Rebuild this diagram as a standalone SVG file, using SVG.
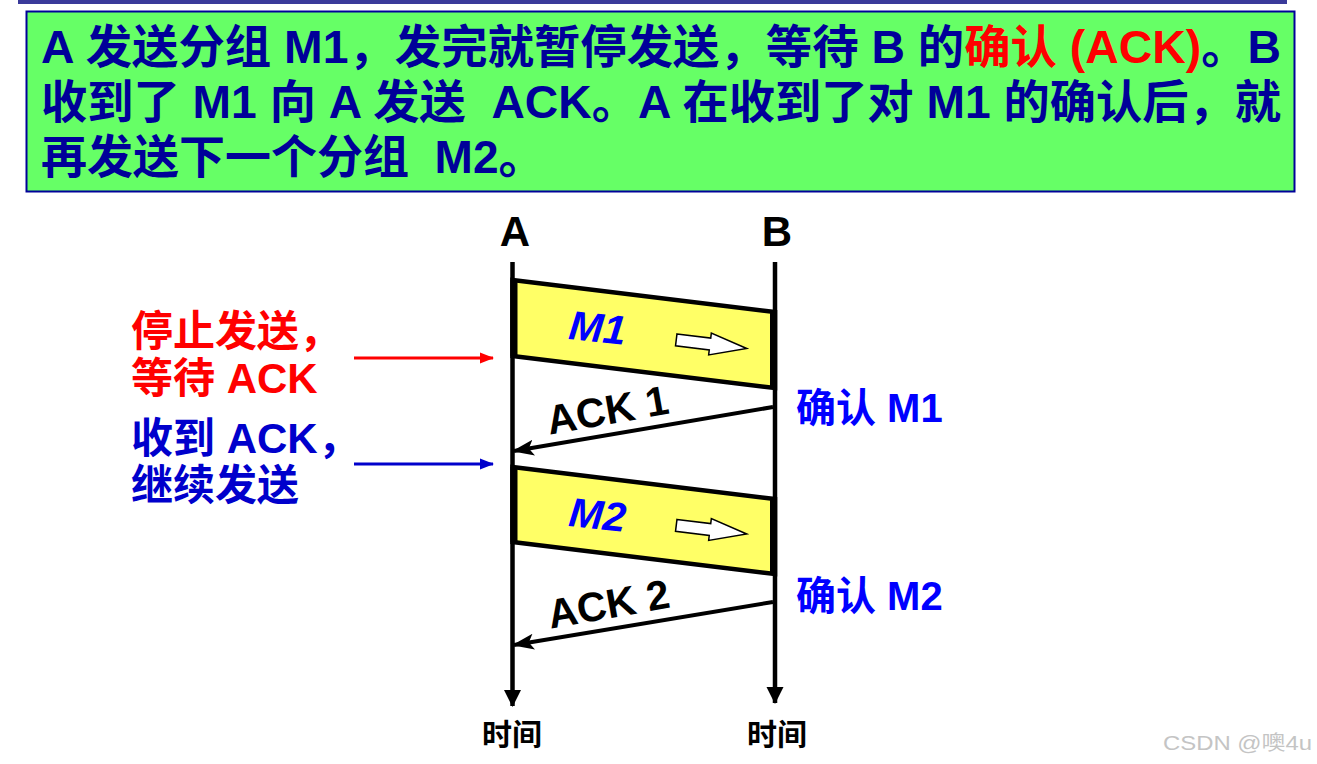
<svg xmlns="http://www.w3.org/2000/svg" width="1317" height="764" viewBox="0 0 1317 764">
<style>
text{font-family:"Liberation Sans","Noto Sans CJK SC",sans-serif;font-weight:bold;white-space:pre}
.hdr{font-size:46px;fill:#000099}
.lbl{font-size:42px}
.ack{font-size:41px;fill:#000}
.msg{font-size:41px;fill:#0000ff;font-style:italic}
.cf{font-size:40px;fill:#0000ff}
.tm{font-size:30px;fill:#000}
.life{stroke:#000;stroke-width:4.5;fill:none}
.box{fill:#ffff66;stroke:#000;stroke-width:4.5;stroke-linejoin:miter}
.side{stroke:#000;stroke-width:7}
.hol{fill:#fff;stroke:#000;stroke-width:1.5}
</style>
<defs>
<marker id="mLife" markerUnits="userSpaceOnUse" markerWidth="18" markerHeight="18" viewBox="0 -9 17 18" refX="16" refY="0" orient="auto"><path d="M0,-8.5 L17,0 L0,8.5 Z" fill="#000"/></marker>
<marker id="mAck" markerUnits="userSpaceOnUse" markerWidth="22" markerHeight="18" viewBox="0 -9 22 18" refX="20" refY="0" orient="auto"><path d="M0,-8 L22,0 L0,8 L5,0 Z" fill="#000"/></marker>
<marker id="mRed" markerUnits="userSpaceOnUse" markerWidth="14" markerHeight="12" viewBox="0 -6 14 12" refX="13" refY="0" orient="auto"><path d="M0,-5.5 L14,0 L0,5.5 Z" fill="#ff0000"/></marker>
<marker id="mBlue" markerUnits="userSpaceOnUse" markerWidth="14" markerHeight="12" viewBox="0 -6 14 12" refX="13" refY="0" orient="auto"><path d="M0,-5.5 L14,0 L0,5.5 Z" fill="#0000cc"/></marker>
</defs>
<rect x="0" y="0" width="1317" height="764" fill="#fff"/>
<rect x="18" y="0" width="1269" height="4" fill="#3a3a9a"/>
<g id="header">
<rect x="26.5" y="11.5" width="1268" height="180" fill="#66ff66" stroke="#000099" stroke-width="2"/>
<text class="hdr" x="41" y="63" textLength="1240" lengthAdjust="spacingAndGlyphs">A 发送分组 M1，发完就暂停发送，等待 B 的<tspan fill="#ff0000">确认 (ACK)</tspan>。B</text>
<text class="hdr" x="41" y="118" textLength="1240" lengthAdjust="spacingAndGlyphs">收到了 M1 向 A 发送  ACK。A 在收到了对 M1 的确认后，就</text>
<text class="hdr" x="41" y="173">再发送下一个分组  M2。</text>
</g>
<g id="nodeA"><text class="lbl" x="515" y="246" text-anchor="middle" fill="#000">A</text></g>
<g id="nodeB"><text class="lbl" x="777" y="246" text-anchor="middle" fill="#000">B</text></g>
<g id="connectors">
<line class="life" x1="512.5" y1="262" x2="512.5" y2="706" marker-end="url(#mLife)"/>
<line class="life" x1="775" y1="262" x2="775" y2="703" marker-end="url(#mLife)"/>
<line x1="773" y1="407" x2="514" y2="451" stroke="#000" stroke-width="4" marker-end="url(#mAck)"/>
<line x1="773" y1="602" x2="514" y2="645" stroke="#000" stroke-width="4" marker-end="url(#mAck)"/>
<line x1="354" y1="358" x2="493" y2="358" stroke="#ff0000" stroke-width="3" marker-end="url(#mRed)"/>
<line x1="354" y1="464" x2="493" y2="464" stroke="#0000cc" stroke-width="3" marker-end="url(#mBlue)"/>
</g>
<g id="msgM1">
<polygon class="box" points="512.5,280 775,312 775,388 512.5,356"/>
<line class="side" x1="514" y1="280" x2="514" y2="356"/>
<line class="side" x1="773.5" y1="312" x2="773.5" y2="388"/>
<text class="msg" x="596" y="342" text-anchor="middle" transform="rotate(6 596 342)">M1</text>
<polygon class="hol" transform="translate(710 344) rotate(7)" points="-34,-6 0,-6 0,-11 37,0 0,11 0,6 -34,6"/>
</g>
<g id="msgM2">
<polygon class="box" points="512.5,467 775,499 775,574 512.5,542"/>
<line class="side" x1="514" y1="467" x2="514" y2="542"/>
<line class="side" x1="773.5" y1="499" x2="773.5" y2="574"/>
<text class="msg" x="596" y="529" text-anchor="middle" transform="rotate(6 596 529)">M2</text>
<polygon class="hol" transform="translate(710 529.5) rotate(7)" points="-34,-6 0,-6 0,-11 37,0 0,11 0,6 -34,6"/>
</g>
<g id="ack1Label"><text class="ack" x="610" y="424" text-anchor="middle" transform="rotate(-10 610 424)">ACK 1</text></g>
<g id="ack2Label"><text class="ack" x="611" y="618" text-anchor="middle" transform="rotate(-10 611 618)">ACK 2</text></g>
<g id="stopLabel">
<text class="lbl" x="131" y="346" fill="#ff0000">停止发送，</text>
<text class="lbl" x="131" y="393" fill="#ff0000">等待 ACK</text>
</g>
<g id="resumeLabel">
<text class="lbl" x="131" y="453" fill="#0000cc">收到 ACK，</text>
<text class="lbl" x="131" y="500" fill="#0000cc">继续发送</text>
</g>
<g id="confirm1"><text class="cf" x="796" y="422">确认 M1</text></g>
<g id="confirm2"><text class="cf" x="796" y="610">确认 M2</text></g>
<g id="timeA"><text class="tm" x="512" y="745" text-anchor="middle">时间</text></g>
<g id="timeB"><text class="tm" x="777" y="745" text-anchor="middle">时间</text></g>
<text x="1163" y="750" font-size="20" fill="#c4c4c4" style="font-weight:normal" textLength="149" lengthAdjust="spacingAndGlyphs">CSDN @噢4u</text>
</svg>
